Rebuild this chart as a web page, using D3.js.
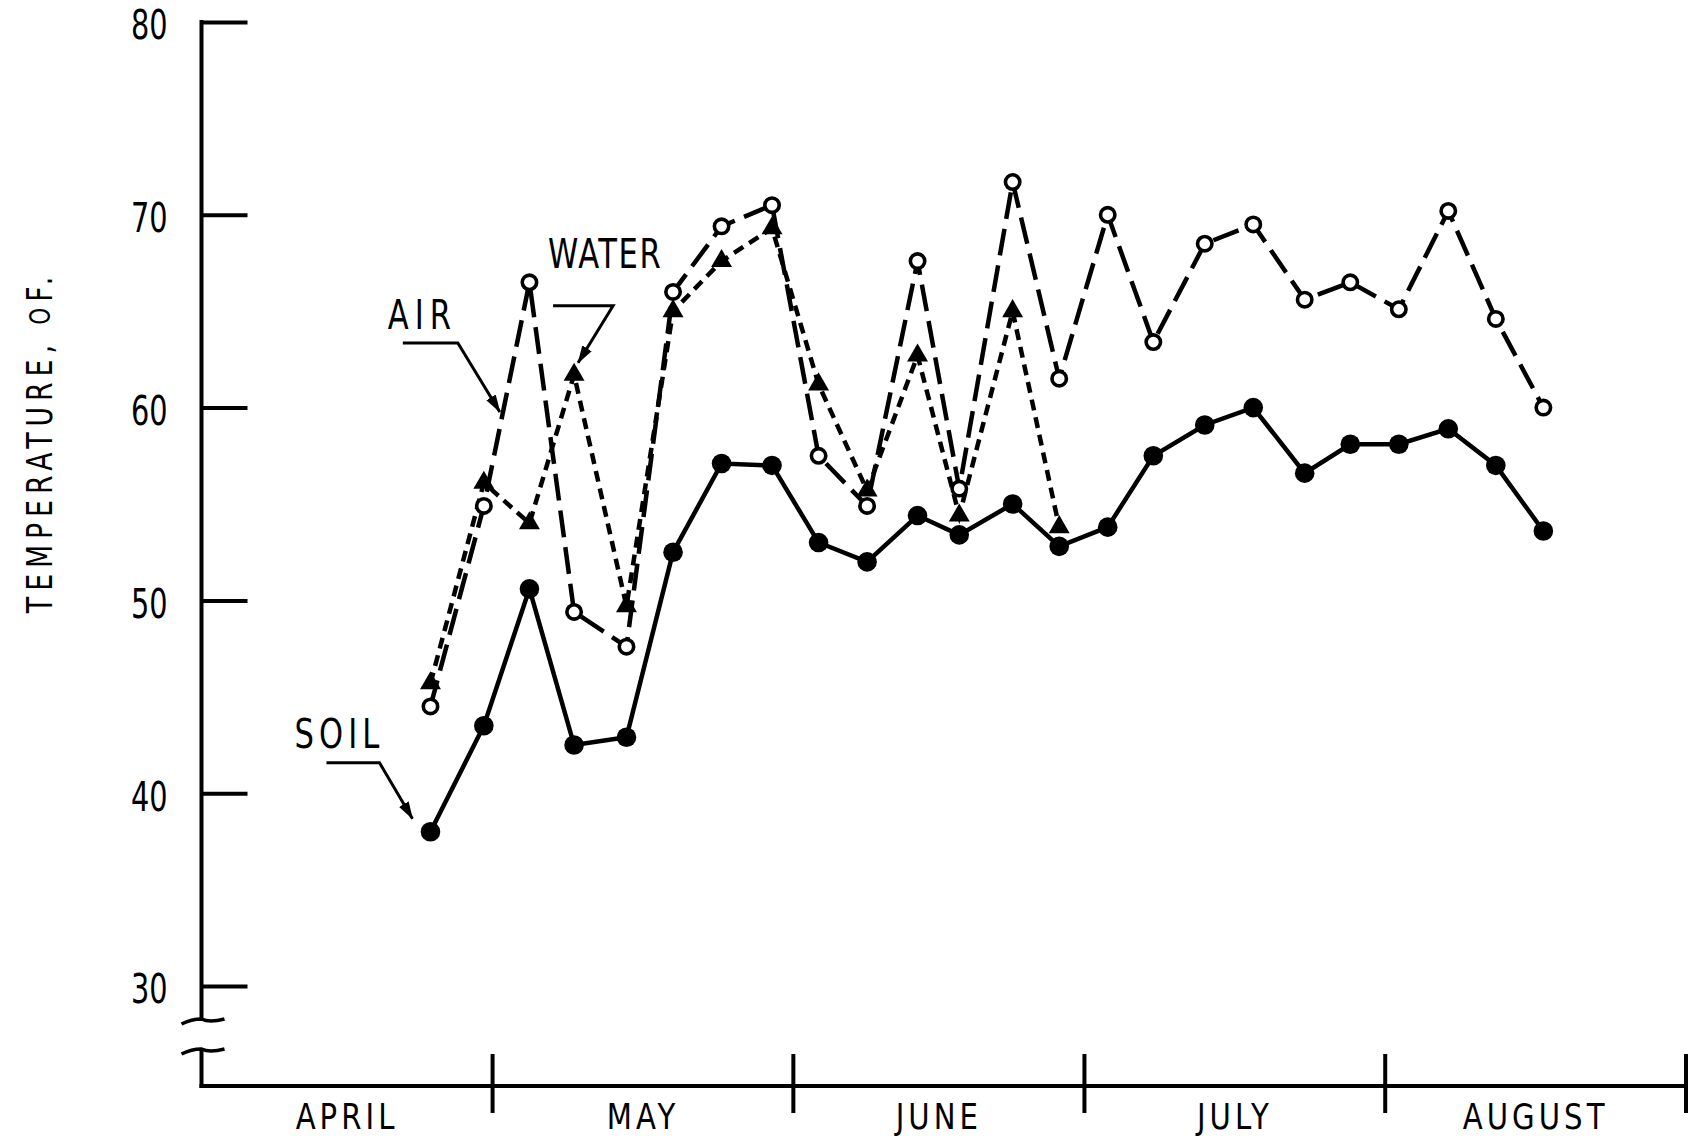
<!DOCTYPE html>
<html>
<head>
<meta charset="utf-8">
<script src="https://cdn.jsdelivr.net/npm/d3@7"></script>
<style>
  body { margin: 0; background: #fff; }
  svg { display: block; }
  text { font-family: "Liberation Sans Narrow", "DejaVu Sans Condensed", "Roboto", sans-serif; fill: #000; }
</style>
</head>
<body>
<svg id="chart" width="1693" height="1139"></svg>
<script>
// sampling days, counted from April 1 (0)
const DAYS = [23.6, 29.1, 33.8, 38.4, 43.8, 48.6, 53.6, 58.8, 63.6, 68.6, 73.8, 78.1,
              83.6, 88.4, 93.4, 98.1, 103.4, 108.4, 113.7, 118.4, 123.4, 128.5, 133.4, 138.3];
const SOIL  = [38.0, 43.5, 50.6, 42.5, 42.9, 52.5, 57.1, 57.0, 53.0, 52.0, 54.4, 53.4,
               55.0, 52.8, 53.8, 57.5, 59.1, 60.0, 56.6, 58.1, 58.1, 58.9, 57.0, 53.6];
const AIR   = [44.5, 54.9, 66.5, 49.4, 47.6, 66.0, 69.4, 70.5, 57.5, 54.9, 67.6, 55.8,
               71.7, 61.5, 70.0, 63.4, 68.5, 69.5, 65.6, 66.5, 65.1, 70.2, 64.6, 60.0];
const WATER = [45.7, 56.1, 54.0, 61.7, 49.7, 65.0, 67.6, 69.3, 61.2, 55.7, 62.7, 54.4,
               65.0, 53.8];

const MONTHS = ["APRIL", "MAY", "JUNE", "JULY", "AUGUST"];
const MONTH_STARTS = [0, 30, 61, 91, 122, 153];
const Y_TICKS = [30, 40, 50, 60, 70, 80];

function tempChart() {
    const width = 1693,
          height = 1139,
          left = 201.5,
          right = 1686,
          yTop = 22,
          y30 = 986,
          baseline = 1086,
          lw = 4.5,
          squeeze = 0.85;   // the original lettering is condensed

    const svg = d3.select("#chart");
    svg.append("rect").attr("width", width).attr("height", height).attr("fill", "#fff");

    const x = d3.scaleLinear().domain([0, 153]).range([left, right]);
    const y = d3.scaleLinear().domain([30, 80]).range([y30, yTop]);

    // arrowhead for the label leaders
    svg.append("defs").append("marker")
        .attr("id", "arrow")
        .attr("markerUnits", "userSpaceOnUse")
        .attr("viewBox", "0 -6 18 12")
        .attr("refX", 17).attr("refY", 0)
        .attr("markerWidth", 18).attr("markerHeight", 12)
        .attr("orient", "auto")
        .append("path")
        .attr("d", "M0,-5.5L18,0L0,5.5Z")
        .attr("fill", "#000");

    // Axes
    // ----------------------------------------
    const yAxis = d3.axisLeft(y)
        .tickValues(Y_TICKS)
        .tickSizeInner(-46)
        .tickSizeOuter(0)
        .tickPadding(34);

    const gy = svg.append("g")
        .attr("transform", `translate(${left},0)`)
        .call(yAxis);
    gy.select(".domain").remove();
    gy.selectAll(".tick line").attr("stroke", "#000").attr("stroke-width", 4);
    gy.selectAll(".tick text")
        .attr("font-size", 41)
        .attr("font-family", null)
        .attr("fill", "#000")
        .attr("dy", "0.41em")
        .attr("x", -34 / 0.78)
        .attr("transform", "scale(0.78,1)");

    const axisG = svg.append("g")
        .attr("stroke", "#000")
        .attr("stroke-width", 4)
        .attr("fill", "none");

    // vertical axis with a break under 30
    const breakTop = y(30) + 34, breakBot = y(30) + 64;
    axisG.append("line")
        .attr("x1", left).attr("x2", left)
        .attr("y1", y(80) - 2).attr("y2", breakTop);
    axisG.append("line")
        .attr("x1", left).attr("x2", left)
        .attr("y1", breakBot).attr("y2", baseline + 2);
    [breakTop, breakBot].forEach(b => {
        axisG.append("path")
            .attr("stroke-width", 3.5)
            .attr("d", `M${left - 20},${b + 4} Q${left - 10},${b - 1} ${left},${b - 1}` +
                       ` Q${left + 8},${b + 3} ${left + 23},${b - 1}`);
    });

    // horizontal axis
    axisG.append("line")
        .attr("x1", left - 2).attr("x2", right)
        .attr("y1", baseline).attr("y2", baseline);

    axisG.selectAll(".month-tick")
        .data(MONTH_STARTS.slice(1))
        .join("line")
        .attr("class", "month-tick")
        .attr("x1", d => x(d)).attr("x2", d => x(d))
        .attr("y1", baseline - 32).attr("y2", baseline + 27);

    svg.selectAll(".month-label")
        .data(MONTHS)
        .join("text")
        .attr("class", "month-label")
        .attr("transform", (d, i) =>
              `translate(${x((MONTH_STARTS[i] + MONTH_STARTS[i + 1]) / 2)},1129) scale(0.9,1)`)
        .attr("text-anchor", "middle")
        .attr("font-size", 36)
        .attr("letter-spacing", 4.5)
        .text(d => d);

    // y label
    const yl = svg.append("text")
        .attr("transform", `translate(52,442) rotate(-90) scale(${squeeze},1)`)
        .attr("text-anchor", "middle")
        .attr("font-size", 35)
        .attr("letter-spacing", 7);
    yl.append("tspan").text("TEMPERATURE, ");
    yl.append("tspan").attr("font-size", 28).attr("dy", -2).text("O");
    yl.append("tspan").attr("dy", 2).text("F.");

    // Series
    // ----------------------------------------
    const line = d3.line()
        .x((d, i) => x(DAYS[i]))
        .y(d => y(d));

    svg.append("path")
        .datum(AIR)
        .attr("d", line)
        .attr("fill", "none")
        .attr("stroke", "#000")
        .attr("stroke-width", lw)
        .attr("stroke-dasharray", "27 10");

    svg.append("path")
        .datum(WATER)
        .attr("d", line)
        .attr("fill", "none")
        .attr("stroke", "#000")
        .attr("stroke-width", lw)
        .attr("stroke-dasharray", "11 7");

    svg.append("path")
        .datum(SOIL)
        .attr("d", line)
        .attr("fill", "none")
        .attr("stroke", "#000")
        .attr("stroke-width", lw);

    svg.selectAll(".air-pt")
        .data(AIR)
        .join("circle")
        .attr("class", "air-pt")
        .attr("cx", (d, i) => x(DAYS[i]))
        .attr("cy", d => y(d))
        .attr("r", 7.2)
        .attr("fill", "#fff")
        .attr("stroke", "#000")
        .attr("stroke-width", 3.6);

    svg.selectAll(".water-pt")
        .data(WATER)
        .join("path")
        .attr("class", "water-pt")
        .attr("transform", (d, i) => `translate(${x(DAYS[i])},${y(d)})`)
        .attr("d", d3.symbol().type(d3.symbolTriangle).size(190))
        .attr("fill", "#000");

    svg.selectAll(".soil-pt")
        .data(SOIL)
        .join("circle")
        .attr("class", "soil-pt")
        .attr("cx", (d, i) => x(DAYS[i]))
        .attr("cy", d => y(d))
        .attr("r", 9.8)
        .attr("fill", "#000");

    // Labels with leader arrows
    // ----------------------------------------
    // anchor = series point the leader is placed from, offsets in px
    const notes = [
        { label: "AIR",   values: AIR,   idx: 1, tip: [16, -94],  corner: [-42, -69], start: [-97, -69], text: [-112, -83], ls: 7 },
        { label: "WATER", values: WATER, idx: 3, tip: [4, -12],   corner: [35, -57],  start: [-25, -57], text: [-30, -95],  ls: 2 },
        { label: "SOIL",  values: SOIL,  idx: 0, tip: [-18, -13], corner: [-33, -56], start: [-86, -56], text: [-118, -71], ls: 6 }
    ];

    notes.forEach(n => {
        const tx = x(DAYS[n.idx]) + n.tip[0],
              ty = y(n.values[n.idx]) + n.tip[1];
        svg.append("path")
            .attr("d", `M${tx + n.start[0]},${ty + n.start[1]}` +
                       `L${tx + n.corner[0]},${ty + n.corner[1]}L${tx},${ty}`)
            .attr("fill", "none")
            .attr("stroke", "#000")
            .attr("stroke-width", 3)
            .attr("marker-end", "url(#arrow)");
        svg.append("text")
            .attr("transform", `translate(${tx + n.text[0]},${ty + n.text[1]}) scale(${squeeze},1)`)
            .attr("font-size", 40)
            .attr("letter-spacing", n.ls)
            .text(n.label);
    });
}

tempChart();
</script>
</body>
</html>
